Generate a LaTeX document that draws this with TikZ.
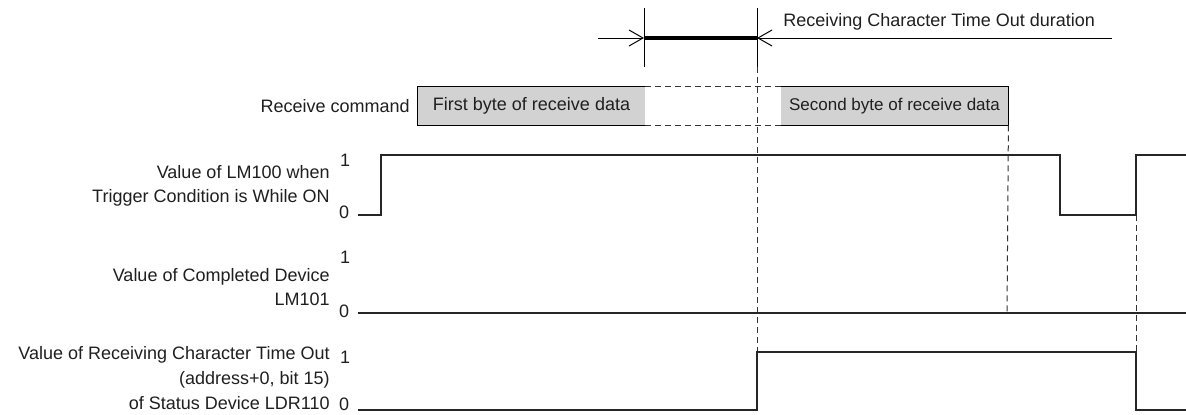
\documentclass[tikz,border=0pt]{standalone}
\usepackage{fontspec}
\setmainfont{Liberation Sans}
\usepackage{xcolor}
\usetikzlibrary{arrows.meta,positioning}

\begin{document}
\begin{tikzpicture}[x=0.5pt, y=-0.5pt,
  every node/.style={font=\fontsize{9}{12.3}\selectfont, text=black!88},
  byte/.style={fill=gray!35, minimum width=113.5pt, minimum height=19pt, inner sep=0pt},
  sig/.style={line width=1.1pt, black!85},
  guide/.style={dash pattern=on 3pt off 2pt, line width=0.5pt, black!80},
  dim/.style={-{Straight Barb[length=7pt, width=8pt]}, line width=0.5pt},
  lvl/.style={inner sep=0pt},
  desc/.style={align=right, anchor=east, inner sep=0pt}]
\useasboundingbox (0,0) rectangle (1186,414);

% time out duration
\coordinate (ta) at (644,38);
\coordinate (tb) at (757,38);
\coordinate (dl) at (598,38);
\coordinate (dr) at (1112,38);
\draw[line width=0.5pt] (644,8) -- (644,67) (757,8) -- (757,67);
\draw[dim] (dl) -- (ta);
\draw[dim] (dr) -- (tb);
\draw[line width=2pt] (ta) -- (tb);
\node[anchor=west, inner sep=0pt] (dur) at (783,22) {Receiving Character Time Out duration};

% receive command
\node[desc] (rc) at (410,106) {Receive command};
\node[byte] (b1) at (531.5,106) {First byte of receive data};
\node[byte, font=\fontsize{8.5}{10}\selectfont] (b2) at (894.5,106) {Second byte of receive data};
\draw[line width=0.6pt] (b1.north east) -- (b1.north west) -- (b1.south west) -- (b1.south east);
\draw[line width=0.6pt] (b2.north west) -- (b2.north east) -- (b2.south east) -- (b2.south west);
\draw[guide] (b1.north east) -- (b2.north west) (b1.south east) -- (b2.south west);

% signal labels
\node[desc] (lm100) at (330,186) {Value of LM100 when\\Trigger Condition is While ON};
\node[desc] (lm101) at (330,287) {Value of Completed Device\\LM101};
\node[desc] (ldr) at (330,378) {Value of Receiving Character Time Out\\(address+0, bit 15)\\of Status Device LDR110};
\node[lvl] (h1) at (345,160) {1};
\node[lvl] (l1) at (344,212) {0};
\node[lvl] (h2) at (345,257) {1};
\node[lvl] (l2) at (344,311) {0};
\node[lvl] (h3) at (345,357) {1};
\node[lvl] (l3) at (344,404) {0};

% guides
\draw[guide] (757,67) -- (757,410);
\draw[guide] (b2.south east) -- (1007,313);
\draw[guide] (1136,215) -- (1136,352);

% waveforms
\draw[sig] (358,215) -- (381,215) -- (381,155) -- (1060,155) -- (1060,215) -- (1136,215) -- (1136,155) -- (1186,155);
\draw[sig] (358,313) -- (1186,313);
\draw[sig] (358,410) -- (757,410) -- (757,352) -- (1136,352) -- (1136,410) -- (1186,410);
\end{tikzpicture}
\end{document}
